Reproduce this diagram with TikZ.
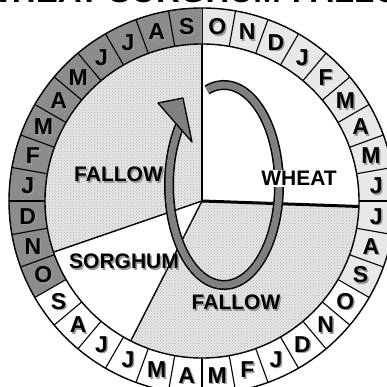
\documentclass[tikz,border=0pt]{standalone}
\usepackage{fontspec}
\setmainfont{Liberation Sans}
\usetikzlibrary{arrows.meta, patterns}

\definecolor{ringlight}{gray}{0.91}
\definecolor{ringdark}{gray}{0.55}
\definecolor{stipple}{gray}{0.90}
\definecolor{loopgray}{gray}{0.50}

\tikzset{
  % month letters round the ring
  month/.style={font=\fontsize{23}{23}\selectfont\bfseries, inner sep=0pt},
  % crop labels in the pie
  cropname/.style={font=\fontsize{21}{21}\selectfont\bfseries, inner sep=1pt},
  % title
  headline/.style={font=\fontsize{33}{33}\selectfont\bfseries, anchor=base},
  % lines
  cellsep/.style={line width=1.1pt},
  rim/.style={line width=1.4pt},
  sector/.style={line width=1.4pt},
  % stippled fallow
  dotted fill/.style={pattern=crosshatch dots, pattern color=black!30},
  % rotation loop
  loopouter/.style={line width=10pt, black},
  loopinner/.style={line width=7pt, loopgray},
}
\newcommand{\shadowtext}[4]{%
  \node[#2, text=black!40, xshift=1.5pt, yshift=-1.5pt] at (#3) {#4};
  \node[#2] (#1) at (#3) {#4};
}

\begin{document}
\begin{tikzpicture}[x=1pt, y=1pt]

  %% ── Frame ──
  \fill[white] (-202,-186) rectangle (184,201);
  \useasboundingbox (-202,-186) rectangle (184,201);

  \node[headline] (title) at (4,198.5) {WHEAT-SORGHUM-FALLOW};

  %% ── Pie ──
  \coordinate (c) at (0,0);
  \coordinate (top) at (90:157);
  \coordinate (w) at (-2:157);
  \coordinate (sl) at (199:157);
  \coordinate (sb) at (243:157);
  \fill[stipple] (c) -- (top) arc[start angle=90, end angle=199, radius=157] -- cycle;
  \fill[stipple] (c) -- (sb) arc[start angle=243, end angle=358, radius=157] -- cycle;
  \fill[dotted fill] (c) -- (top) arc[start angle=90, end angle=199, radius=157] -- cycle;
  \fill[dotted fill] (c) -- (sb) arc[start angle=243, end angle=358, radius=157] -- cycle;

  %% ── Month ring ──
  \foreach \yr/\col in {0/ringlight, 1/white, 2/ringdark}
    \foreach \m [count=\k from 0] in {O,N,D,J,F,M,A,M,J,J,A,S} {
      \pgfmathsetmacro\a{90-10*(12*\yr+\k)}
      \fill[\col] (\a:157) arc[start angle=\a, end angle=\a-10, radius=157]
        -- (\a-10:193) arc[start angle=\a-10, end angle=\a, radius=193] -- cycle;
      \draw[cellsep] (\a:157) -- (\a:193);
      \shadowtext{m\yr\k}{month}{\a-5:175}{\m}
    }
  \draw[rim] (c) circle[radius=157];
  \draw[rim] (c) circle[radius=193];

  %% ── Sector lines ──
  \draw[line width=1.8pt] (c) -- (top);
  \draw[line width=3pt] (c) -- (w);
  \draw[sector] (c) -- (sl);
  \draw[sector] (c) -- (sb);

  %% ── Rotation loop ──
  \coordinate (loopc) at (22,16);
  \draw[loopouter] (loopc) ++(108:55 and 100)
    arc[start angle=108, end angle=-220, x radius=55, y radius=100];
  \draw[loopinner] (loopc) ++(108:55 and 100)
    arc[start angle=108, end angle=-220, x radius=55, y radius=100];
  \filldraw[fill=loopgray, line width=1.3pt, line join=round]
    (-44,98) -- (-19,103) -- (-10,59) -- cycle;

  %% ── Crop labels ──
  \shadowtext{fallowA}{cropname}{-83.5,26.5}{FALLOW}
  \shadowtext{sorghum}{cropname}{-78,-60.5}{SORGHUM}
  \shadowtext{fallowB}{cropname}{34,-101.5}{FALLOW}
  \node[cropname, fill=white] (wheat) at (97,22.5) {WHEAT};

\end{tikzpicture}
\end{document}
